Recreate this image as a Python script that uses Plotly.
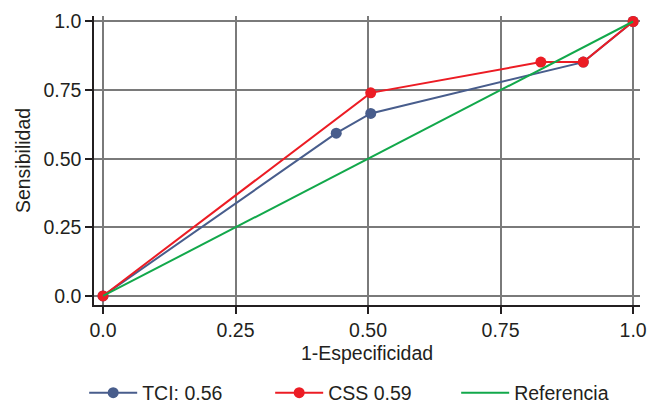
import plotly.graph_objects as go

tci_x = [0.0, 0.44, 0.505, 0.906, 1.0]
tci_y = [0.0, 0.593, 0.665, 0.852, 1.0]
css_x = [0.0, 0.505, 0.826, 0.906, 1.0]
css_y = [0.0, 0.740, 0.852, 0.852, 1.0]
ref_x = [0.0, 1.0]
ref_y = [0.0, 1.0]
tick_vals = [0.0, 0.25, 0.5, 0.75, 1.0]
tick_text = ["0.0", "0.25", "0.50", "0.75", "1.0"]

blue = "#485D8C"
red = "#EC1C24"
green = "#12A84B"
font_fam = "Liberation Sans, Arial, sans-serif"
fs = 19.5

fig = go.Figure()
fig.add_trace(go.Scatter(x=tci_x, y=tci_y, mode="lines+markers", name="TCI: 0.56",
                         line=dict(color=blue, width=2), marker=dict(color=blue, size=11)))
fig.add_trace(go.Scatter(x=css_x, y=css_y, mode="lines+markers", name="CSS 0.59",
                         line=dict(color=red, width=2), marker=dict(color=red, size=11)))
fig.add_trace(go.Scatter(x=ref_x, y=ref_y, mode="lines", name="Referencia",
                         line=dict(color=green, width=2)))

axis_common = dict(
    showgrid=True, gridcolor="#7a7a7a", gridwidth=1.5,
    showline=True, linecolor="#231f20", linewidth=1.5,
    ticks="outside", ticklen=7, tickcolor="#231f20", tickwidth=1.5,
    tickvals=tick_vals, ticktext=tick_text, zeroline=False, automargin=True,
    tickfont=dict(size=fs, color="#231f20", family=font_fam),
)

fig.update_layout(
    width=648, height=404,
    margin=dict(l=94, r=8, t=16, b=99, autoexpand=False),
    paper_bgcolor="white", plot_bgcolor="white",
    font=dict(family=font_fam, color="#231f20", size=fs),
    xaxis=dict(range=[-0.017, 1.013], title=dict(text="1-Especificidad", standoff=6,
                                                 font=dict(size=fs)), **axis_common),
    yaxis=dict(range=[-0.033, 1.02], title=dict(text="Sensibilidad", standoff=8,
                                                font=dict(size=fs)), **axis_common),
    legend=dict(orientation="h", x=-0.018, xanchor="left", y=-0.237, yanchor="top",
                font=dict(size=fs), entrywidth=123, itemwidth=48, traceorder="normal"),
    showlegend=True,
)

fig.write_html("out.html", config={"displayModeBar": False},
               post_script="document.body.style.margin='0px';document.body.style.overflow='hidden';")
